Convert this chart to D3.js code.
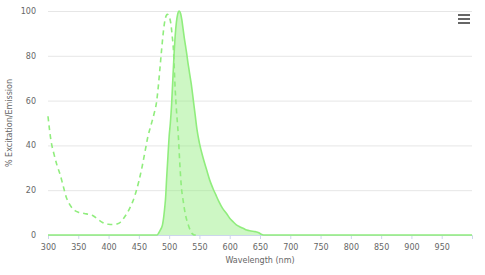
<!DOCTYPE html>
<html>
<head>
<meta charset="utf-8">
<script src="https://cdn.jsdelivr.net/npm/d3@7"></script>
<style>
  html, body { margin: 0; padding: 0; background: #fff; }
  svg { display: block; font-family: "DejaVu Sans", sans-serif; }
</style>
</head>
<body>
<svg id="chart" width="485" height="275"></svg>
<script>
// ---- data ----
const exWavelengths = [300,305,310,315,320,325,330,335,340,345,350,360,370,375,380,385,390,395,400,405,410,415,420,425,430,435,440,445,450,455,460,465,470,475,479,482,485,488,491,494,497,500,503,505,507,510,512,515,518,520,523,527,531,535,538,542,550];
const exValues     = [53,42,36,31,27,22,17,14,12,10.8,10.2,9.6,9,8.5,7.5,6.5,5.6,5,4.8,4.7,4.8,5,5.8,7.5,9.5,12,15,19,24,30,37,44,49,54,59,66,75,84,92,97,98.5,97.5,94,89,83,65,56,45,30,22,15.6,9,5,2,0.6,0,0];

const emWavelengths = [300,400,480,483,486,489,491,493,494,496,498,500,502,504,506,508,510,512,514,516.5,519,521,523,525,527,529,531,533,535,537,540,543,546,550,556,562,567,572,577,582,588,595,600,606,611,617,622,628,635,642,648,652,656,700,800,900,1000];
const emValues     = [0,0,0,1,2.5,4.5,8,13,16,26,35,44,50,58,69,80,89,95,98.5,100,98.8,96,92,88,84.5,81,77,73.5,70,66.5,60,53.5,47,41,34.5,29,24.5,21,18,15,12,9.5,7.5,5.8,4.5,3.6,3,2.2,1.8,1.5,1,0.3,0,0,0,0,0];

const xTicks = [300,350,400,450,500,550,600,650,700,750,800,850,900,950];
const yTicks = [0,20,40,60,80,100];
const xTitle = "Wavelength (nm)";
const yTitle = "% Excitation/Emission";

// ---- layout ----
const svg = d3.select("#chart");
const pLeft = 48, pRight = 472, pTop = 11, pBottom = 235;
const x = d3.scaleLinear().domain([300, 1000]).range([pLeft, pRight]);
const y = d3.scaleLinear().domain([0, 100]).range([pBottom, pTop]);
const green = "#90ed7d";

// gridlines + y labels
const yAxis = svg.append("g").attr("transform", `translate(${pLeft},0)`)
  .call(d3.axisLeft(y).tickValues(yTicks).tickSize(-(pRight - pLeft)).tickPadding(12));
yAxis.select(".domain").remove();
yAxis.selectAll(".tick line").attr("stroke", "#e6e6e6");
yAxis.selectAll(".tick text").attr("fill", "#666").attr("font-size", "8px")
  .attr("font-family", "DejaVu Sans, sans-serif");

// x axis
const xAxis = svg.append("g").attr("transform", `translate(0,${pBottom})`)
  .call(d3.axisBottom(x).tickValues(xTicks).tickSize(4).tickPadding(5).tickFormat(d3.format("d")));
xAxis.select(".domain").attr("stroke", "#ccd6eb");
xAxis.selectAll(".tick line").attr("stroke", "#ccd6eb");
xAxis.selectAll(".tick text").attr("fill", "#666").attr("font-size", "8px")
  .attr("font-family", "DejaVu Sans, sans-serif");

// titles
svg.append("text").attr("x", (pLeft + pRight) / 2).attr("y", 263)
  .attr("text-anchor", "middle").attr("fill", "#666").attr("font-size", "8px")
  .text(xTitle);
svg.append("text").attr("transform", `translate(12,${(pTop + pBottom) / 2}) rotate(-90)`)
  .attr("text-anchor", "middle").attr("fill", "#666").attr("font-size", "8px")
  .text(yTitle);

// emission area + line
const em = emWavelengths.map((w, i) => [w, emValues[i]]);
const ex = exWavelengths.map((w, i) => [w, exValues[i]]);

svg.append("path").datum(em)
  .attr("d", d3.area().x(d => x(d[0])).y0(y(0)).y1(d => y(d[1])).curve(d3.curveMonotoneX))
  .attr("fill", green).attr("fill-opacity", 0.45);
svg.append("path").datum(em)
  .attr("d", d3.line().x(d => x(d[0])).y(d => y(d[1])).curve(d3.curveMonotoneX))
  .attr("fill", "none").attr("stroke", green).attr("stroke-width", 1.6);

// excitation dashed
svg.append("path").datum(ex)
  .attr("d", d3.line().x(d => x(d[0])).y(d => y(d[1])).curve(d3.curveMonotoneX))
  .attr("fill", "none").attr("stroke", green).attr("stroke-width", 1.6)
  .attr("stroke-dasharray", "5,4");

// menu icon
const menu = svg.append("g").attr("stroke", "#666").attr("stroke-width", 2);
[15, 19, 23].forEach(v => menu.append("line").attr("x1", 458).attr("x2", 470).attr("y1", v).attr("y2", v));
</script>
</body>
</html>
